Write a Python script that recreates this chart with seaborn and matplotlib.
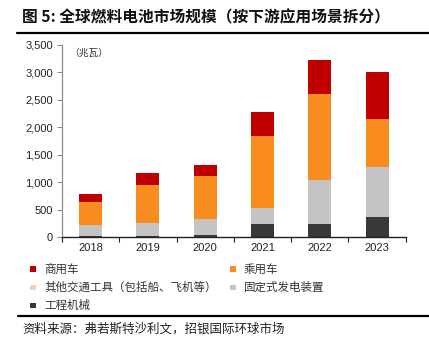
import numpy as np
import pandas as pd
import matplotlib
matplotlib.use("Agg")
import matplotlib.pyplot as plt
from matplotlib.patches import Rectangle
from matplotlib.lines import Line2D
from matplotlib.ticker import FuncFormatter, FixedLocator
import seaborn as sns

# Global fuel cell market size by application (MW)
years = ["2018", "2019", "2020", "2021", "2022", "2023"]
construction = [22, 25, 42, 237, 248, 376]        # 工程机械
other_transport = [1, 1, 1, 1, 1, 1]             # 其他交通工具
stationary = [201, 241, 297, 302, 797, 906]       # 固定式发电装置
passenger = [415, 687, 766, 1296, 1551, 863]      # 乘用车
commercial = [146, 219, 208, 450, 620, 852]       # 商用车

series_names = ["工程机械", "其他交通工具（包括船、飞机等）", "固定式发电装置", "乘用车", "商用车"]
series_values = [construction, other_transport, stationary, passenger, commercial]
colors = {"商用车": "#C00000", "乘用车": "#F98C1F",
          "其他交通工具（包括船、飞机等）": "#F9D0B4",
          "固定式发电装置": "#C4C4C4", "工程机械": "#383838"}

sns.set_theme(style="white")
plt.rcParams["font.family"] = ["Noto Sans CJK SC", "DejaVu Sans"]

cum = np.zeros(len(years))
layers = []
for name, vals in zip(series_names, series_values):
    cum = cum + np.array(vals, dtype=float)
    layers.append((name, cum.copy()))

W, H = 429, 347
fig = plt.figure(figsize=(W / 100, H / 100), dpi=100)
ax = fig.add_axes([62 / W, 1 - 237.3 / H, (405.7 - 62) / W, (237.3 - 44.7) / H])

# stacked bars: draw cumulative totals from top layer down
for name, c in reversed(layers):
    d = pd.DataFrame({"year": years, "value": c})
    sns.barplot(data=d, x="year", y="value", color=colors[name], width=0.4,
                saturation=1, ax=ax, edgecolor="none", linewidth=0)

ax.set_ylim(0, 3500)
ax.set_xlim(-0.5, 5.5)
ax.set_yticks(np.arange(0, 3501, 500))
ax.yaxis.set_major_formatter(FuncFormatter(lambda v, p: f"{int(v):,}"))
ax.set_xlabel("")
ax.set_ylabel("")
for s in ["top", "right"]:
    ax.spines[s].set_visible(False)
ax.spines["left"].set_color("#8C8C8C")
ax.spines["left"].set_linewidth(0.9)
ax.spines["bottom"].set_color("#222222")
ax.spines["bottom"].set_linewidth(1.0)

ax.tick_params(axis="y", left=True, length=3.5, width=0.8, color="#8C8C8C",
               pad=3, labelcolor="#222222")
ax.tick_params(axis="x", bottom=False, length=0, pad=4, labelcolor="#222222")
for lab in ax.get_yticklabels() + ax.get_xticklabels():
    lab.set_fontfamily(["Liberation Sans", "DejaVu Sans"])
    lab.set_fontsize(8)
ax.xaxis.set_minor_locator(FixedLocator(np.arange(-0.5, 6.0, 1.0)))
ax.tick_params(axis="x", which="minor", bottom=True, length=3.5, width=0.8,
               color="#222222", direction="out")

ax.text(0.02, 0.985, "（兆瓦）", transform=ax.transAxes, fontsize=7,
        color="#333333", va="top", ha="left")

# title and rules
fig.text(22 / W, 1 - 17 / H, "图 5: 全球燃料电池市场规模（按下游应用场景拆分）",
         fontsize=11.3, fontweight="bold", va="center", ha="left", color="#111111")
fig.add_artist(Line2D([17 / W, 1.0], [1 - 33 / H, 1 - 33 / H], color="black", lw=1.6))
fig.add_artist(Line2D([18 / W, 1.0], [1 - 315.7 / H, 1 - 315.7 / H], color="black", lw=1.6))

# legend
legend_items = [
    ("商用车", 33, 269), ("乘用车", 233, 269),
    ("其他交通工具（包括船、飞机等）", 33, 287.7), ("固定式发电装置", 233, 287.7),
    ("工程机械", 33, 305.7),
]
for name, x, y in legend_items:
    s = 5.5
    fig.add_artist(Rectangle(((x - s / 2) / W, 1 - (y + s / 2) / H), s / W, s / H,
                             transform=fig.transFigure, color=colors[name], lw=0))
    fig.text((x + 11) / W, 1 - y / H, name, fontsize=8.3, va="center", ha="left",
             color="#333333")

fig.text(22 / W, 1 - 329 / H, "资料来源：弗若斯特沙利文，招银国际环球市场",
         fontsize=9, va="center", ha="left", color="#222222")

fig.savefig("out.png", dpi=100)
